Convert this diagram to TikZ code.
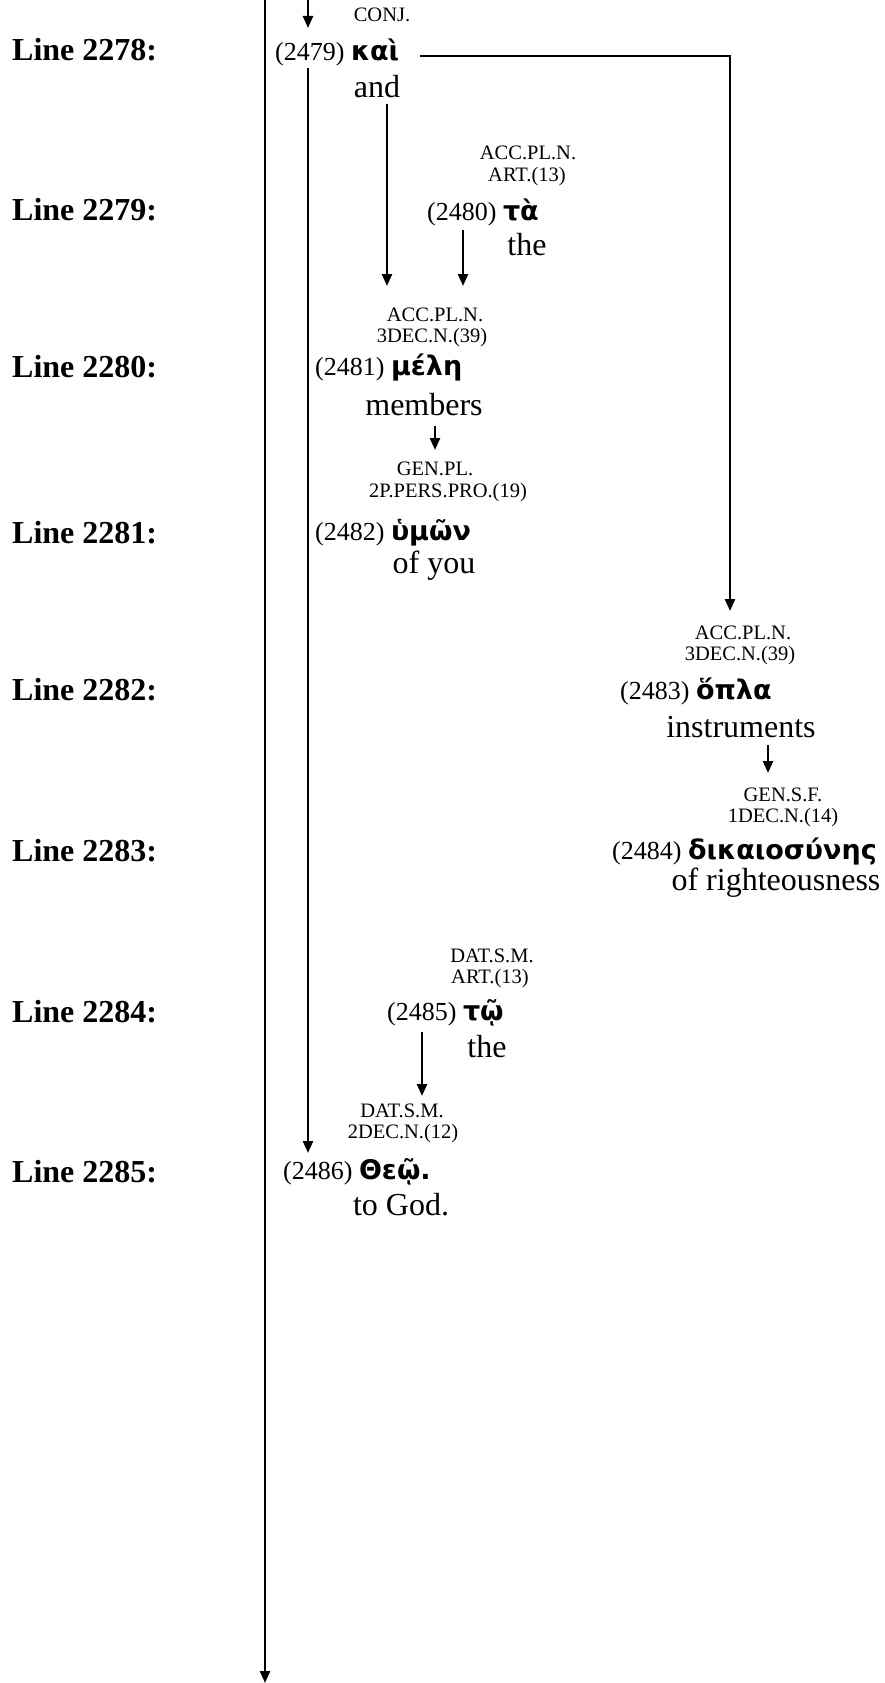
\documentclass[tikz,border=0pt]{standalone}
\usepackage{fontspec}
\setmainfont{Liberation Serif}
\newfontfamily\grk{DejaVu Sans}
\usetikzlibrary{arrows.meta}
\tikzset{
  tag/.style={inner sep=0pt, font=\fontsize{20.5}{22}\selectfont},
  word/.style={inner sep=0pt, anchor=west, font=\fontsize{26}{28}\selectfont},
  gloss/.style={inner sep=0pt, font=\fontsize{32}{34}\selectfont},
  linelab/.style={inner sep=0pt, anchor=west, font=\fontsize{32}{34}\selectfont\bfseries},
  conn/.style={line width=2.3pt, -{Triangle[length=12pt,width=10pt]}}
}
\newcommand{\gw}[1]{{\grk\bfseries\fontsize{27}{30}\selectfont #1}}
\begin{document}
\begin{tikzpicture}[x=1pt,y=-1pt]
\useasboundingbox (0,0) rectangle (885,1683);
% line labels
\node[linelab] (L1) at (12,50) {Line 2278:};
\node[linelab] (L2) at (12,210) {Line 2279:};
\node[linelab] (L3) at (12,367) {Line 2280:};
\node[linelab] (L4) at (12,533) {Line 2281:};
\node[linelab] (L5) at (12,690) {Line 2282:};
\node[linelab] (L6) at (12,851) {Line 2283:};
\node[linelab] (L7) at (12,1012) {Line 2284:};
\node[linelab] (L8) at (12,1172) {Line 2285:};
% 2479
\node[tag] (t1) at (382,15) {CONJ.};
\node[word] (w1) at (275,52) {(2479) \gw{καὶ}};
\node[gloss] (g1) at (377,87) {and};
% 2480
\node[tag] (t2a) at (528,153) {ACC.PL.N.};
\node[tag] (t2b) at (527,177) {ART.(13)};
\node[word] (w2) at (427,212) {(2480) \gw{τὰ}};
\node[gloss] (g2) at (527,245) {the};
% 2481
\node[tag] (t3a) at (435,315) {ACC.PL.N.};
\node[tag] (t3b) at (432,338) {3DEC.N.(39)};
\node[word] (w3) at (315,368) {(2481) \gw{μέλη}};
\node[gloss] (g3) at (424,405) {members};
% 2482
\node[tag] (t4a) at (435,469) {GEN.PL.};
\node[tag] (t4b) at (448,493) {2P.PERS.PRO.(19)};
\node[word] (w4) at (315,533) {(2482) \gw{ὑμῶν}};
\node[gloss] (g4) at (434,566) {of you};
% 2483
\node[tag] (t5a) at (743,633) {ACC.PL.N.};
\node[tag] (t5b) at (740,656) {3DEC.N.(39)};
\node[word] (w5) at (620,691) {(2483) \gw{ὅπλα}};
\node[gloss] (g5) at (741,727) {instruments};
% 2484
\node[tag] (t6a) at (783,795) {GEN.S.F.};
\node[tag] (t6b) at (783,818) {1DEC.N.(14)};
\node[word] (w6) at (612,852) {(2484) \gw{δικαιοσύνης}};
\node[gloss] (g6) at (776,883) {of righteousness};
% 2485
\node[tag] (t7a) at (492,956) {DAT.S.M.};
\node[tag] (t7b) at (490,979) {ART.(13)};
\node[word] (w7) at (387,1013) {(2485) \gw{τῷ}};
\node[gloss] (g7) at (487,1047) {the};
% 2486
\node[tag] (t8a) at (402,1111) {DAT.S.M.};
\node[tag] (t8b) at (403,1134) {2DEC.N.(12)};
\node[word] (w8) at (283,1172) {(2486) \gw{Θεῷ.}};
\node[gloss] (g8) at (401,1205) {to God.};
% coordinates
\coordinate (mainTop) at (265,0);
\coordinate (mainEnd) at (265,1683);
\coordinate (topIn) at (308,0);
\coordinate (topEnd) at (308,28);
\coordinate (kaiDown) at (308,68);
\coordinate (theosIn) at (308,1153);
\coordinate (andDown) at (387,104);
\coordinate (meleIn1) at (387,286);
\coordinate (taDown) at (463,230);
\coordinate (meleIn2) at (463,286);
\coordinate (memDown) at (435,426);
\coordinate (hymonIn) at (435,450);
\coordinate (kaiRight) at (420,56);
\coordinate (kaiCorner) at (730,56);
\coordinate (oplaIn) at (730,611);
\coordinate (instrDown) at (768,745);
\coordinate (dikIn) at (768,773);
\coordinate (toDown) at (422,1032);
\coordinate (theosIn2) at (422,1096);
% connectors
\draw[conn] (mainTop) -- (mainEnd);
\draw[conn] (topIn) -- (topEnd);
\draw[conn] (kaiDown) -- (theosIn);
\draw[conn] (andDown) -- (meleIn1);
\draw[conn] (taDown) -- (meleIn2);
\draw[conn] (memDown) -- (hymonIn);
\draw[conn] (kaiRight) -- (kaiCorner) -- (oplaIn);
\draw[conn] (instrDown) -- (dikIn);
\draw[conn] (toDown) -- (theosIn2);
\end{tikzpicture}
\end{document}
